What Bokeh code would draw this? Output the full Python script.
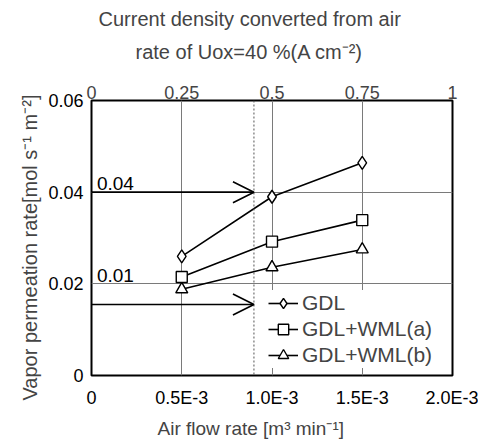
from bokeh.plotting import figure
from bokeh.models import (Range1d, LinearAxis, FixedTicker, Arrow, OpenHead, Title,
                          Span, Label, Legend, LegendItem)
from bokeh.embed import file_html
from bokeh.resources import INLINE

# ---- data ----
airflow = [0.5e-3, 1.0e-3, 1.5e-3]
gdl = [0.026, 0.039, 0.0464]
wml_a = [0.0215, 0.0292, 0.0339]
wml_b = [0.0188, 0.0236, 0.0275]
series_names = ["GDL", "GDL+WML(a)", "GDL+WML(b)"]

x_ticks = [0, 0.5e-3, 1.0e-3, 1.5e-3, 2.0e-3]
x_tick_labels = ["0", "0.5E-3", "1.0E-3", "1.5E-3", "2.0E-3"]
y_ticks = [0, 0.02, 0.04, 0.06]
y_tick_labels = ["0", "0.02", "0.04", "0.06"]
top_ticks = [0, 0.25, 0.5, 0.75, 1]
top_tick_labels = ["0", "0.25", "0.5", "0.75", "1"]

guide_x = 0.9e-3
arrow_y = [0.04, 0.0155]
guide_labels = ["0.04", "0.01"]
guide_label_y = [0.04, 0.02]

title_lines = ["Current density converted from air", "rate of Uox=40 %(A cm\u207b\u00b2)"]
x_label = "Air flow rate [m\u00b3 min\u207b\u00b9]"
y_label = "Vapor permeation rate[mol s\u207b\u00b9 m\u207b\u00b2]"

FONT = "Liberation Sans"
FW, FH = 361, 275

p = figure(frame_width=FW, frame_height=FH, output_backend="svg", toolbar_location=None,
           x_range=Range1d(0, 2.0e-3), y_range=Range1d(0, 0.06),
           min_border_left=91, min_border_right=26, min_border_top=100, min_border_bottom=65)
p.outline_line_color = "black"
p.outline_line_width = 2
p.background_fill_color = "white"
p.border_fill_color = "white"

for ax in (p.xaxis[0], p.yaxis[0]):
    ax.axis_line_color = None
    ax.major_tick_line_color = None
    ax.minor_tick_line_color = None
    ax.major_tick_out = 0
    ax.major_tick_in = 0
    ax.major_label_text_font = FONT
    ax.major_label_text_font_size = "18px"
    ax.major_label_text_color = "black"

p.xaxis.ticker = FixedTicker(ticks=x_ticks)
p.xaxis.major_label_overrides = {t: l for t, l in zip(x_ticks, x_tick_labels)}
p.xaxis.major_label_standoff = 12

p.yaxis.ticker = FixedTicker(ticks=y_ticks)
p.yaxis.major_label_overrides = {t: l for t, l in zip(y_ticks, y_tick_labels)}
p.yaxis.major_label_standoff = 8

p.extra_x_ranges = {"cd": Range1d(0, 1)}
top = LinearAxis(x_range_name="cd", ticker=FixedTicker(ticks=top_ticks))
top.major_label_overrides = {t: l for t, l in zip(top_ticks, top_tick_labels)}
top.axis_line_color = None
top.major_tick_line_color = None
top.minor_tick_line_color = None
top.major_tick_out = 0
top.major_tick_in = 0
top.major_label_text_font = FONT
top.major_label_text_font_size = "18px"
top.major_label_standoff = 2
p.add_layout(top, "above")

# titles (stacked above the top axis) and axis titles
t2 = Title(text=title_lines[1], align="left", offset=44, standoff=39,
           text_font=FONT, text_font_size="20px", text_font_style="normal")
t1 = Title(text=title_lines[0], align="left", offset=7, standoff=-20,
           text_font=FONT, text_font_size="20px", text_font_style="normal")
p.add_layout(t2, "above")
p.add_layout(t1, "above")
p.add_layout(Title(text=x_label, align="left", offset=66, standoff=10,
                   text_font=FONT, text_font_size="19px", text_font_style="normal"), "below")
p.add_layout(Title(text=y_label, align="left", offset=-25, standoff=10,
                   text_font=FONT, text_font_size="20px", text_font_style="normal"), "left")

# grid
p.xgrid.ticker = FixedTicker(ticks=x_ticks)
p.ygrid.ticker = FixedTicker(ticks=y_ticks)
p.xgrid.grid_line_color = "#7a7a7a"
p.ygrid.grid_line_color = "#7a7a7a"

# guide line and arrows
p.add_layout(Span(location=guide_x, dimension="height", line_color="#555555",
                  line_dash="2 2", line_width=1))
for ay in arrow_y:
    p.add_layout(Arrow(end=OpenHead(size=21, line_width=1.6, line_color="black"),
                       x_start=0, y_start=ay, x_end=guide_x, y_end=ay,
                       line_color="black", line_width=1.6))
for txt, ly in zip(guide_labels, guide_label_y):
    p.add_layout(Label(x=0.00003, y=ly, text=txt, y_offset=2, text_baseline="bottom",
                       text_font=FONT, text_font_size="19px", text_color="black"))

# series
markers = ["diamond", "square", "triangle"]
msizes = [13, 11, 12]
items = []
for ys, name, mk, ms in zip([gdl, wml_a, wml_b], series_names, markers, msizes):
    ln = p.line(airflow, ys, line_color="black", line_width=1.6)
    sc = p.scatter(airflow, ys, marker=mk, size=ms, fill_color="white",
                   line_color="black", line_width=1.4)
    items.append(LegendItem(label=name, renderers=[ln, sc]))

legend = Legend(items=items, location=(177, 7), border_line_color=None,
                background_fill_color="white", background_fill_alpha=1.0,
                label_text_font=FONT, label_text_font_size="21px",
                glyph_width=30, glyph_height=26, label_height=26, spacing=0,
                padding=6, label_standoff=4, margin=0)
p.add_layout(legend, "center")

open("out.html", "w").write(file_html(p, INLINE))
